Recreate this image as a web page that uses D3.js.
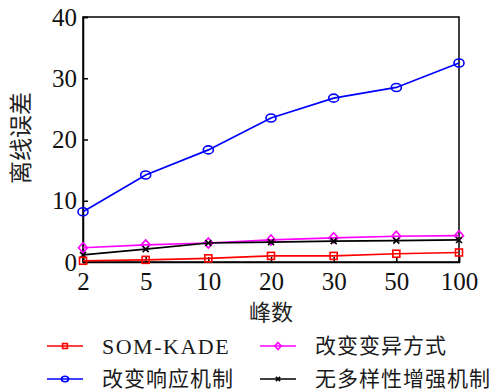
<!DOCTYPE html>
<html><head><meta charset="utf-8">
<script src="https://cdn.jsdelivr.net/npm/d3@7"></script>
<style>body{margin:0;background:#fff}svg{display:block}</style>
</head><body>
<script>
const categories = ["2","5","10","20","30","50","100"];
const yTicks = [0,10,20,30,40];
const somKade = [0.2,0.35,0.6,1.0,1.0,1.35,1.55];
const changeResponse = [8.2,14.2,18.3,23.5,26.75,28.5,32.5];
const changeMutation = [2.33,2.8,3.1,3.6,3.95,4.2,4.3];
const noDiversity = [1.15,2.1,3.1,3.25,3.4,3.5,3.6];
const seriesNames = ["SOM-KADE","改变变异方式","改变响应机制","无多样性增强机制"];

const W=498,H=392;
const m={l:83,t:17,r:459,b:262};
const svg=d3.select("body").append("svg").attr("width",W).attr("height",H);
const x=d3.scalePoint().domain(categories).range([m.l,m.r]);
const y=d3.scaleLinear().domain([0,40]).range([m.b,m.t]);
const serif="'Liberation Serif','Times New Roman',serif";
const cjk="'Noto Sans CJK SC',sans-serif";

svg.append("rect").attr("x",m.l).attr("y",m.t).attr("width",m.r-m.l).attr("height",m.b-m.t)
  .attr("fill","none").attr("stroke","#000").attr("stroke-width",1.5);

const yAxis=svg.append("g").attr("transform",`translate(${m.l},0)`)
  .call(d3.axisLeft(y).tickValues(yTicks).tickSize(-5).tickPadding(6).tickFormat(d3.format("d")));
const xAxis=svg.append("g").attr("transform",`translate(0,${m.b})`)
  .call(d3.axisBottom(x).tickSize(-5).tickPadding(10));
[yAxis,xAxis].forEach(g=>{
  g.select(".domain").attr("stroke","#000").attr("stroke-width",1.5);
  g.selectAll(".tick line").attr("stroke","#000").attr("stroke-width",1.5);
  g.selectAll("text").attr("font-family",serif).attr("font-size",25).attr("fill","#111");
});

svg.append("text").attr("transform",`translate(21,138) rotate(-90)`)
  .attr("text-anchor","middle").attr("dy","0.35em").attr("font-family",cjk).attr("font-size",23).attr("fill","#222").text("离线误差");
svg.append("text").attr("x",271).attr("y",312).attr("dy","0.35em").attr("text-anchor","middle")
  .attr("font-family",cjk).attr("font-size",22).attr("fill","#222").text("峰数");

const series=[
  {name:seriesNames[0],vals:somKade,color:"#ff0000",marker:"square"},
  {name:seriesNames[1],vals:changeMutation,color:"#ff00ff",marker:"diamond"},
  {name:seriesNames[2],vals:changeResponse,color:"#0000ff",marker:"circle"},
  {name:seriesNames[3],vals:noDiversity,color:"#000000",marker:"x"}
];
function drawMarker(g,type,color,cx,cy,s){
  s=s||1;
  if(type==="circle") g.append("ellipse").attr("cx",cx).attr("cy",cy).attr("rx",5*s).attr("ry",4*s).attr("fill","none").attr("stroke",color).attr("stroke-width",1.6);
  else if(type==="square") g.append("rect").attr("x",cx-3.5*s).attr("y",cy-3.5*s).attr("width",7*s).attr("height",7*s).attr("fill","none").attr("stroke",color).attr("stroke-width",1.6);
  else if(type==="diamond") g.append("path").attr("d",`M${cx},${cy-5*s}L${cx+4.5*s},${cy}L${cx},${cy+5*s}L${cx-4.5*s},${cy}Z`).attr("fill","none").attr("stroke",color).attr("stroke-width",1.6);
  else g.append("path").attr("d",`M${cx-3*s},${cy-3*s}L${cx+3*s},${cy+3*s}M${cx-3*s},${cy+3*s}L${cx+3*s},${cy-3*s}`).attr("stroke",color).attr("stroke-width",1.6);
}
const line=d3.line().x((d,i)=>x(categories[i])).y(d=>y(d));
[2,1,3,0].forEach(k=>{
  const s=series[k];
  const g=svg.append("g");
  g.append("path").attr("d",line(s.vals)).attr("fill","none").attr("stroke",s.color).attr("stroke-width",1.7);
  s.vals.forEach((v,i)=>drawMarker(g,s.marker,s.color,x(categories[i]),y(v)));
});

const leg=[{s:series[0],lx:47,ty:346},{s:series[1],lx:260,ty:346},{s:series[2],lx:47,ty:379},{s:series[3],lx:260,ty:379}];
leg.forEach(L=>{
  const g=svg.append("g");
  g.append("line").attr("x1",L.lx).attr("x2",L.lx+36).attr("y1",L.ty).attr("y2",L.ty).attr("stroke",L.s.color).attr("stroke-width",1.7);
  drawMarker(g,L.s.marker,L.s.color,L.lx+18,L.ty,0.7);
  const isLatin=L.s.name==="SOM-KADE";
  g.append("text").attr("x",L.lx+55).attr("y",L.ty).attr("dy","0.35em")
    .attr("font-family",isLatin?serif:cjk).attr("font-size",isLatin?22:21)
    .attr("letter-spacing",isLatin?1.5:1).attr("fill","#1a1a1a").text(L.s.name);
});
</script>
</body></html>
